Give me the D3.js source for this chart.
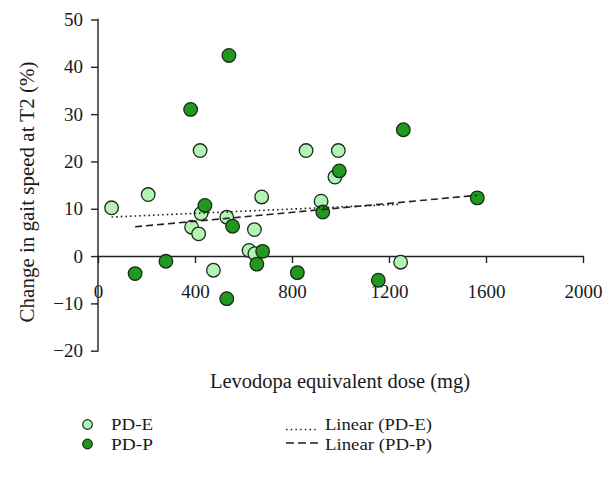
<!DOCTYPE html>
<html>
<head>
<meta charset="utf-8">
<script src="https://cdn.jsdelivr.net/npm/d3@7"></script>
<style>
  html, body { margin: 0; padding: 0; background: #fff; }
  svg { display: block; }
  svg text { font-family: "Liberation Serif", "DejaVu Serif", serif !important; fill: #1a1a1a; }
</style>
</head>
<body>
<svg id="chart" width="612" height="479" font-family="Liberation Serif, serif"></svg>
<script>
// ---- Data ----
const seriesNames = ["PD-E", "PD-P"];
const pdeDose  = [56, 207, 421, 425, 386, 415, 531, 645, 675, 858, 991, 977, 920, 1248, 476, 623, 647];
const pdeSpeed = [10.2, 13.0, 22.3, 9.0, 6.1, 4.7, 8.2, 5.6, 12.5, 22.3, 22.3, 16.7, 11.6, -1.3, -3.0, 1.2, 0.5];
const pdpDose  = [540, 382, 441, 555, 995, 927, 679, 655, 1259, 1564, 153, 280, 531, 822, 1156];
const pdpSpeed = [42.4, 31.0, 10.7, 6.3, 18.0, 9.3, 1.0, -1.7, 26.7, 12.3, -3.7, -1.1, -9.0, -3.5, -5.1];
const xTicks = [0, 400, 800, 1200, 1600, 2000];
const yTicks = [-20, -10, 0, 10, 20, 30, 40, 50];
const xTitle = "Levodopa equivalent dose (mg)";
const yTitle = "Change in gait speed at T2 (%)";
const trendNames = ["Linear (PD-E)", "Linear (PD-P)"];

const colors = { "PD-E": "#b3f3b5", "PD-P": "#1f9a1f" };
const strokeCol = "#1c2b1c";
const FONT = "Liberation Serif, serif";

const svg = d3.select("#chart");
const x = d3.scaleLinear().domain([0, 2000]).range([98, 583]);
const y = d3.scaleLinear().domain([-20, 50]).range([350.7, 19.5]);

const pts = (xs, ys) => xs.map((d, i) => ({ x: d, y: ys[i] }));
const pde = pts(pdeDose, pdeSpeed);
const pdp = pts(pdpDose, pdpSpeed);

function fit(data) {
  const mx = d3.mean(data, d => d.x), my = d3.mean(data, d => d.y);
  const b = d3.sum(data, d => (d.x - mx) * (d.y - my)) / d3.sum(data, d => (d.x - mx) ** 2);
  const a = my - b * mx;
  const [x0, x1] = d3.extent(data, d => d.x);
  return [{ x: x0, y: a + b * x0 }, { x: x1, y: a + b * x1 }];
}

// Axes
const yAxis = d3.axisLeft(y).tickValues(yTicks).tickSize(7).tickPadding(8)
  .tickFormat(d => d < 0 ? "\u2212" + Math.abs(d) : String(d));
const gy = svg.append("g").attr("transform", `translate(${x(0)},0)`).call(yAxis)
  .attr("font-family", FONT).attr("font-size", 19);
gy.select(".domain").attr("d", `M-0.5,${y(50)}H0V${y(-20)}H-0.5`);
gy.selectAll("line, path").attr("stroke", "#222").attr("stroke-width", 1.4);
gy.selectAll("text").attr("font-family", FONT).attr("font-size", 19).attr("fill", "#1a1a1a");

const xAxis = d3.axisBottom(x).tickValues(xTicks).tickSize(7).tickPadding(21).tickSizeOuter(0)
  .tickFormat(d3.format("d"));
const gx = svg.append("g").attr("transform", `translate(0,${y(0)})`).call(xAxis)
  .attr("font-family", FONT).attr("font-size", 19);
gx.selectAll("line, path").attr("stroke", "#222").attr("stroke-width", 1.4);
gx.selectAll("text").attr("font-family", FONT).attr("font-size", 19).attr("fill", "#1a1a1a");

// Points
function drawPoints(data, name) {
  svg.append("g").selectAll("circle").data(data).join("circle")
    .attr("cx", d => x(d.x)).attr("cy", d => y(d.y)).attr("r", 6.8)
    .attr("fill", colors[name]).attr("stroke", strokeCol).attr("stroke-width", 1.3);
}
drawPoints(pde, "PD-E");
drawPoints(pdp, "PD-P");

// Trend lines
const line = d3.line().x(d => x(d.x)).y(d => y(d.y));
svg.append("path").datum(fit(pde)).attr("d", line).attr("fill", "none")
  .attr("stroke", "#222").attr("stroke-width", 1.6).attr("stroke-dasharray", "1.6,3");
svg.append("path").datum(fit(pdp)).attr("d", line).attr("fill", "none")
  .attr("stroke", "#222").attr("stroke-width", 1.6).attr("stroke-dasharray", "7,4");

// Titles
svg.append("text").attr("x", 340).attr("y", 388).attr("text-anchor", "middle")
  .attr("font-family", FONT).attr("font-size", 20.5).text(xTitle);
svg.append("text").attr("transform", "translate(34,192) rotate(-90)").attr("text-anchor", "middle")
  .attr("font-family", FONT).attr("font-size", 21).text(yTitle);

// Legend
const legY = [424.5, 444];
const nameW = [42, 42];
const trendW = [107, 107];
seriesNames.forEach((name, i) => {
  svg.append("circle").attr("cx", 87.5).attr("cy", legY[i]).attr("r", 4.8)
    .attr("fill", colors[name]).attr("stroke", strokeCol).attr("stroke-width", 1.2);
  svg.append("text").attr("x", 111).attr("y", legY[i] + 5.5)
    .attr("font-family", FONT).attr("font-size", 16.5)
    .attr("textLength", nameW[i]).attr("lengthAdjust", "spacingAndGlyphs").text(name);
});
svg.append("line").attr("x1", 286).attr("x2", 318).attr("y1", 429.5).attr("y2", 429.5)
  .attr("stroke", "#222").attr("stroke-width", 1.5).attr("stroke-dasharray", "1.5,3.2");
svg.append("line").attr("x1", 286).attr("x2", 318).attr("y1", 443).attr("y2", 443)
  .attr("stroke", "#222").attr("stroke-width", 1.5).attr("stroke-dasharray", "8,4");
trendNames.forEach((t, i) => {
  svg.append("text").attr("x", 325).attr("y", legY[i] + 5.5)
    .attr("font-family", FONT).attr("font-size", 16.5)
    .attr("textLength", trendW[i]).attr("lengthAdjust", "spacingAndGlyphs").text(t);
});
</script>
</body>
</html>
